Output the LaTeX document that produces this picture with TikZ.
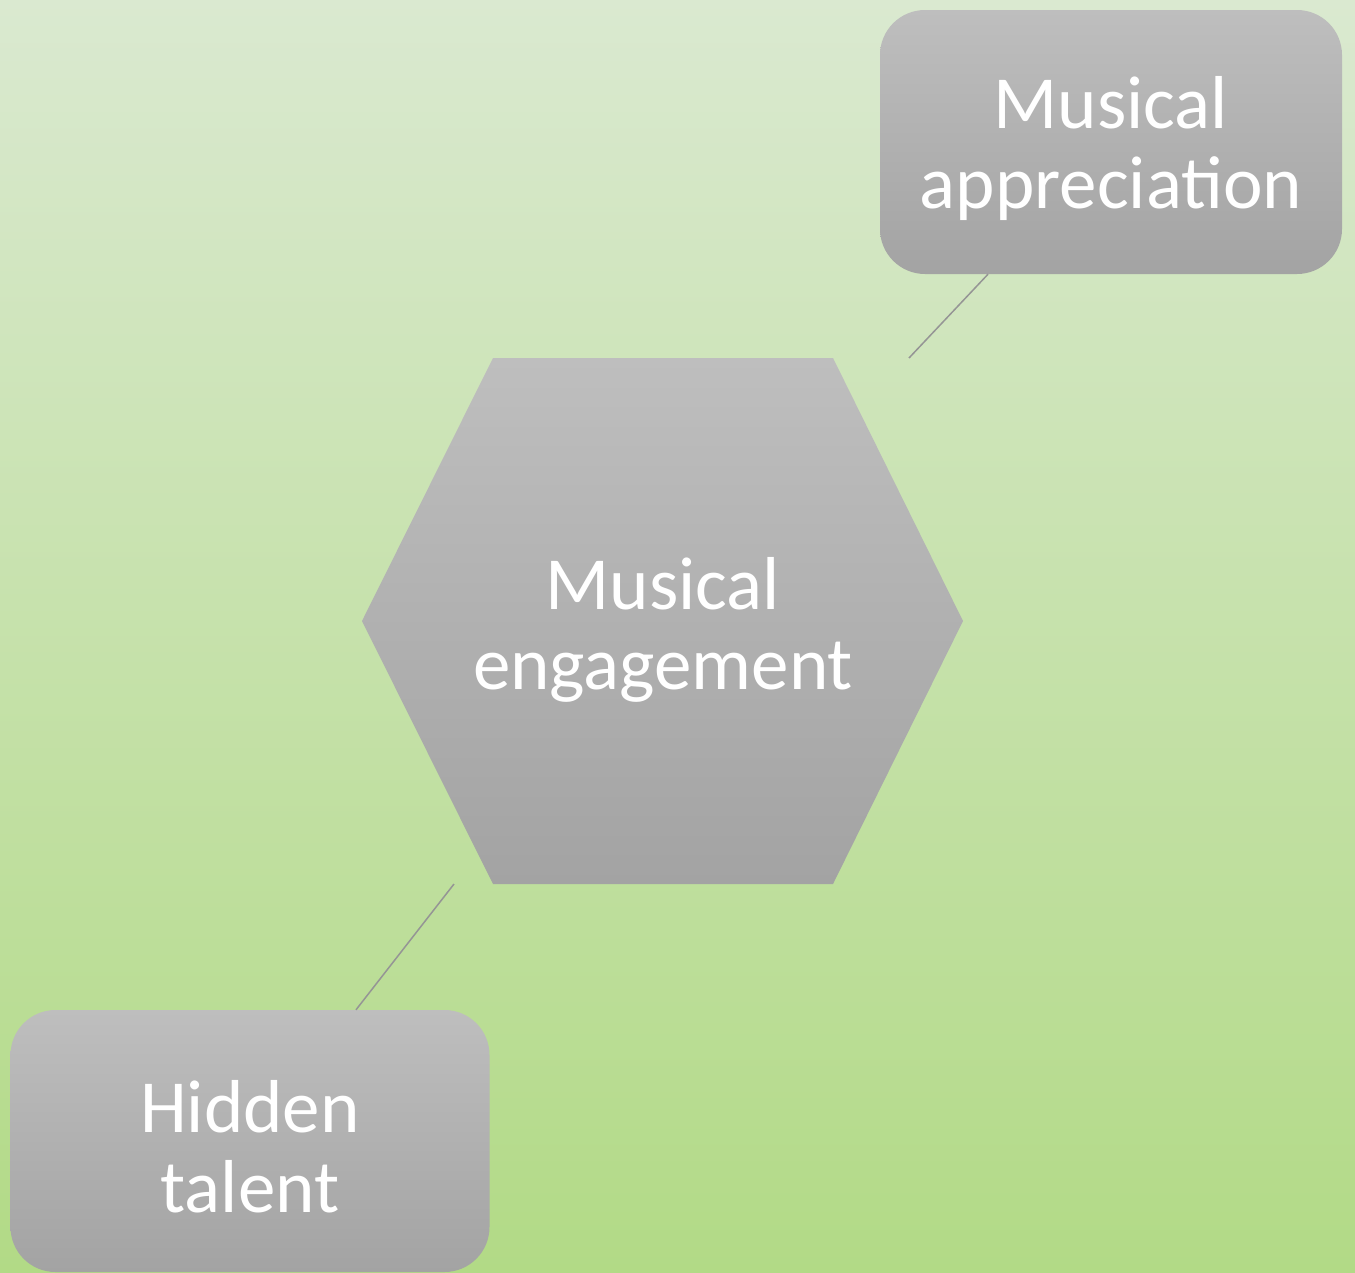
\documentclass[tikz,border=0pt]{standalone}
\usepackage{fontspec}
\setmainfont{Carlito}
\usetikzlibrary{positioning}

\definecolor{bgtop}{HTML}{DAE9D0}
\definecolor{bgbot}{HTML}{B2DA86}
\definecolor{boxtop}{HTML}{BEBEBE}
\definecolor{boxbot}{HTML}{A3A3A3}
\definecolor{linkgray}{HTML}{959595}

\tikzstyle{roundbox}=[rounded corners=45pt, top color=boxtop, bottom color=boxbot,
  text=white, align=center, inner sep=0pt, font=\fontsize{75}{81}\selectfont]
\tikzstyle{label}=[text=white, align=center, font=\fontsize{75}{80}\selectfont]
\tikzstyle{link}=[draw=linkgray, line width=1.5pt]

\begin{document}
\begin{tikzpicture}[x=1pt, y=-1pt]
      \shade[top color=bgtop, bottom color=bgbot] (0,0) rectangle (1355,1272);
      \useasboundingbox (0,0) rectangle (1355,1272);
      % centre hexagon
      \shade[top color=boxtop, bottom color=boxbot]
        (493,358) -- (833,358) -- (963,621) -- (833,884) -- (493,884) -- (362,621) -- cycle;
      \node[label] (eng) at (663,630) {Musical\\engagement};
      \node[roundbox, minimum width=462pt, minimum height=264pt] (app) at (1111,142) {};
      \node[label] (apptext) at (1111,149) {Musical\\appreciation};
      \node[roundbox, minimum width=479pt, minimum height=262pt] (tal) at (250,1141) {};
      \node[label] (taltext) at (250,1147) {Hidden\\talent};
      \coordinate (append) at (909,358);
      \coordinate (talend) at (454,884);
      \draw[link] (app.south) ++(-123,0) coordinate (appfoot) -- (append);
      \draw[link] (tal.north) ++(106,0) coordinate (talfoot) -- (talend);
    \end{tikzpicture}
\end{document}
